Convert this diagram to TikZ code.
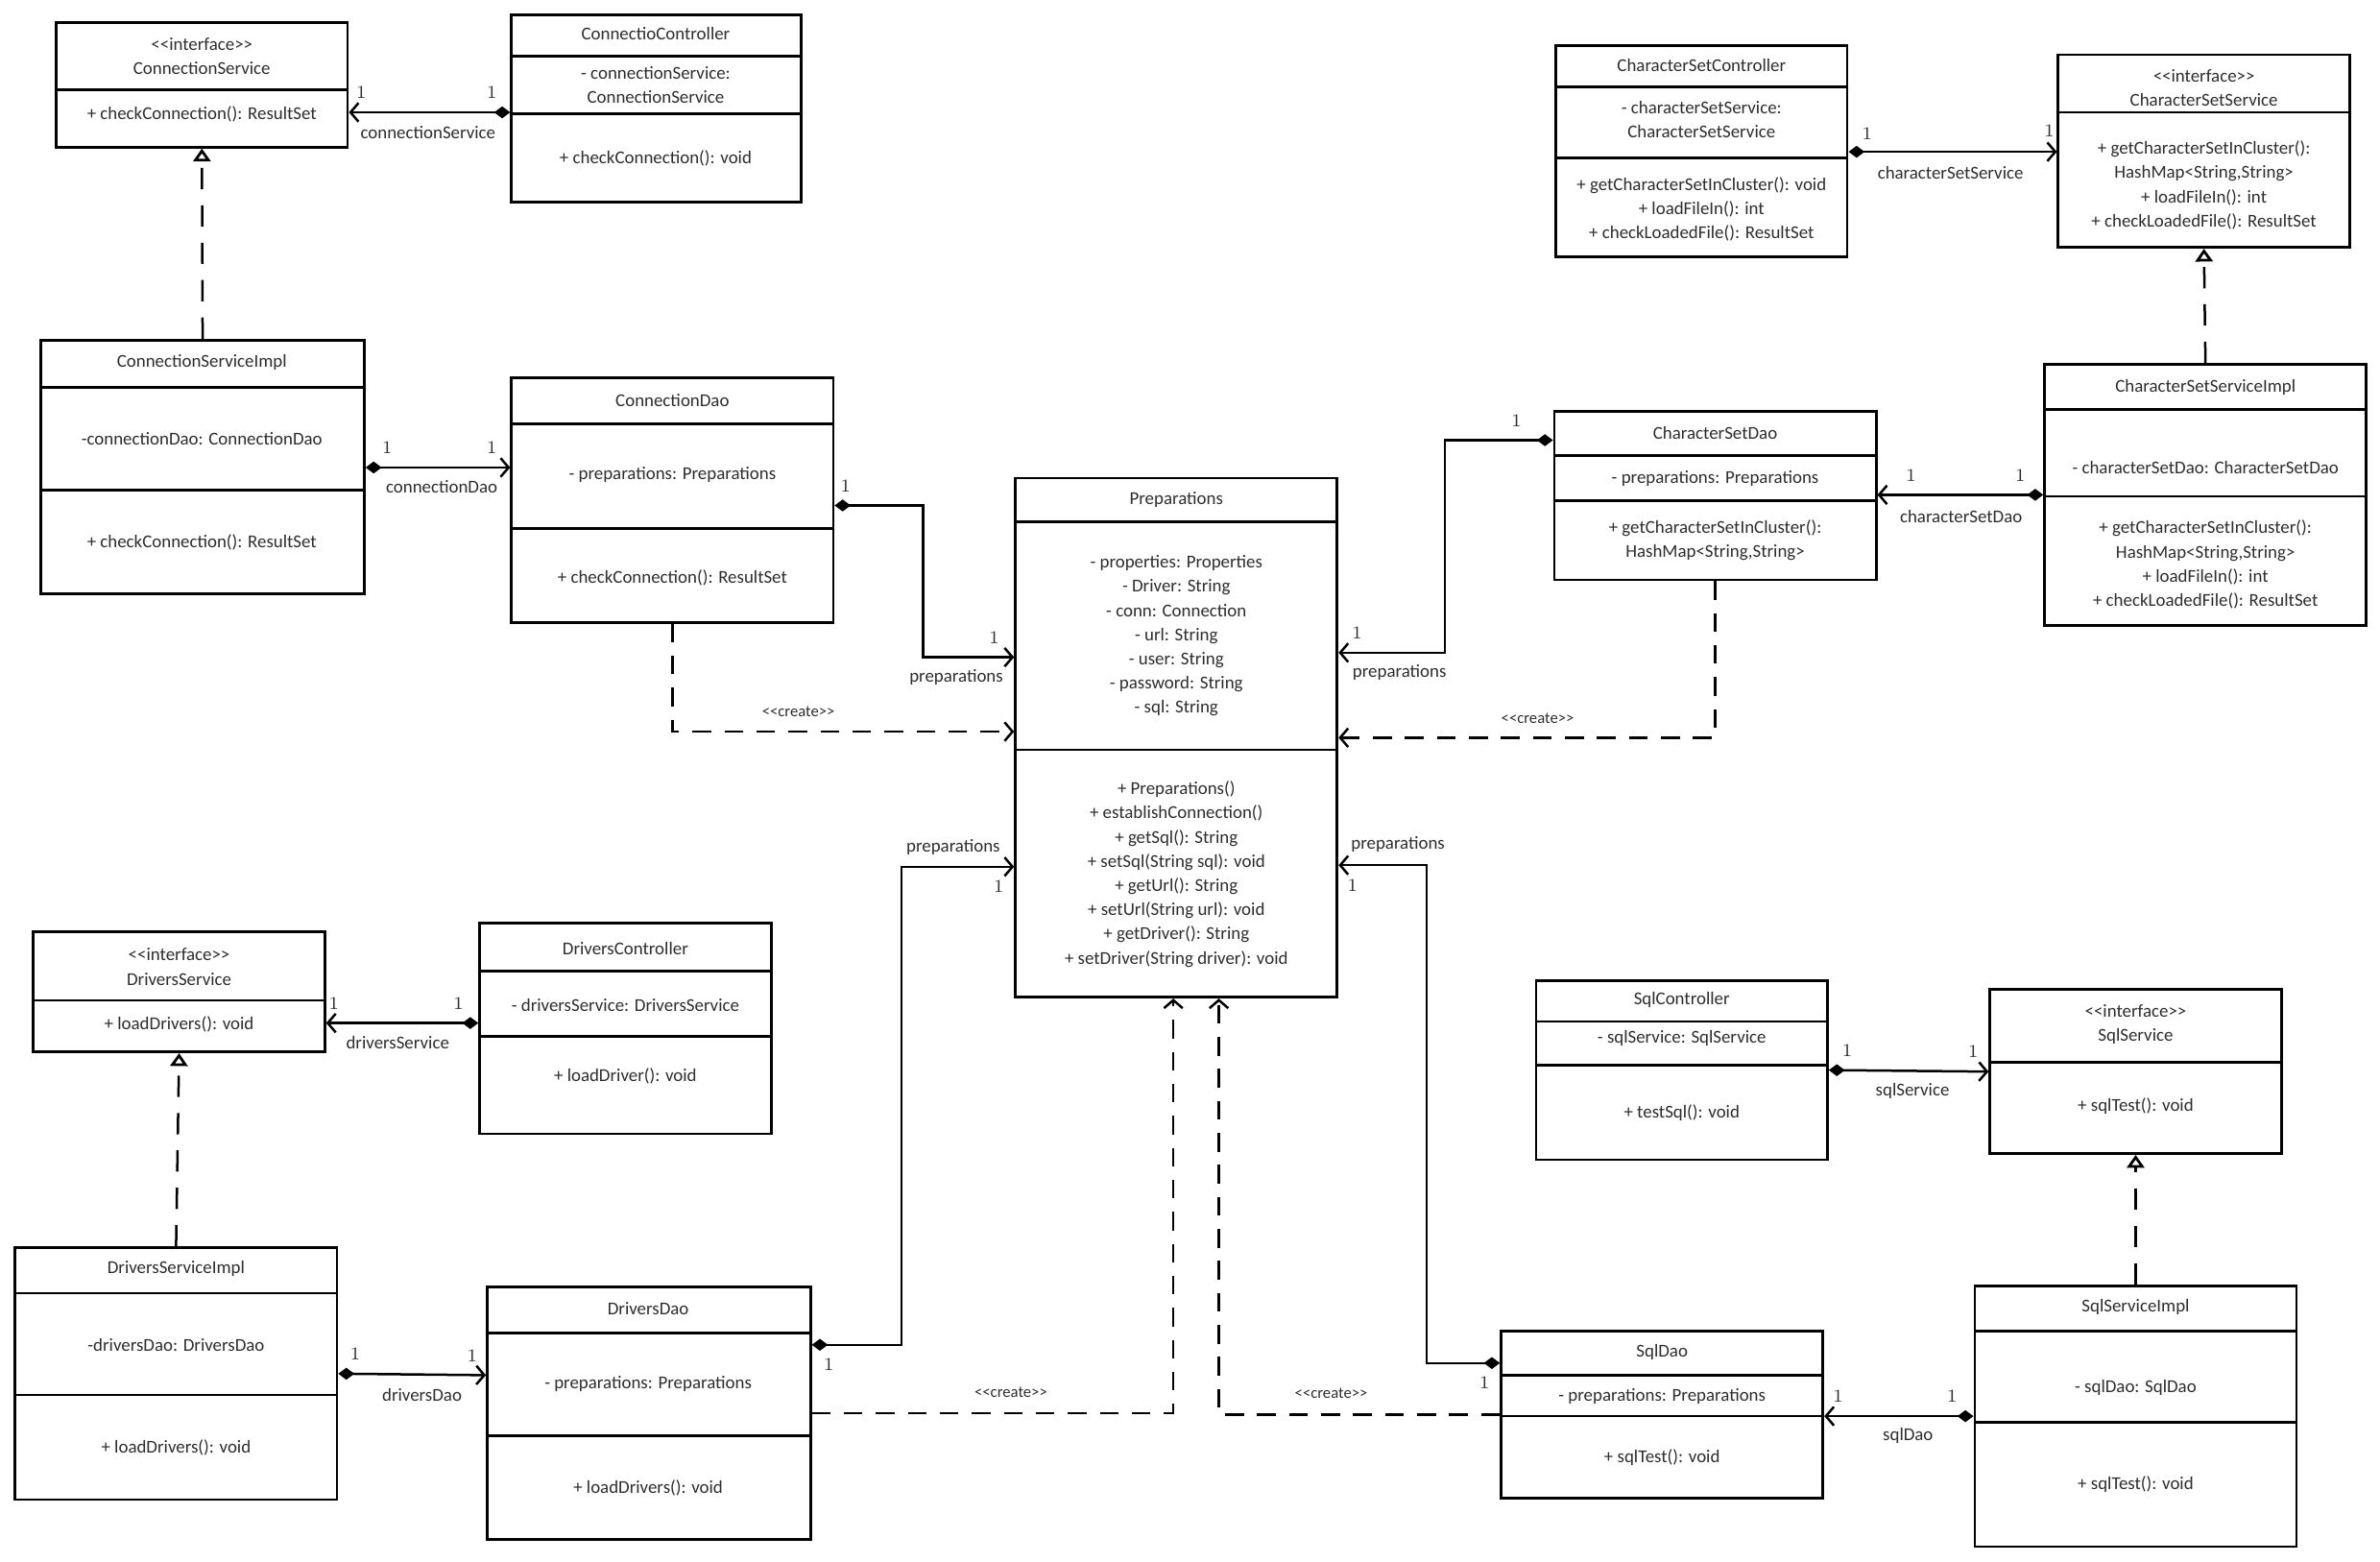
\documentclass[tikz,border=0pt]{standalone}
\usepackage{fontspec}
\setsansfont{Carlito}
\usetikzlibrary{arrows.meta}
\newcommand{\umlcls}[6]{%
  \node[clsbox, minimum width={(#4-#2)*0.02cm}, minimum height={(#5-#3)*0.02cm}] (#1) at ({(#2+#4)/2},{(#3+#5)/2}) {};
  \foreach \dy in {#6} {\draw[clsline] (#2,\dy) -- (#4,\dy);}
}
\newcommand{\stereo}[1]{<\kern0pt<#1>\kern0pt>}
\begin{document}
\begin{tikzpicture}[x=0.02cm,y=-0.02cm,
  clsbox/.style={draw, line width=1pt, inner sep=0pt},
  clsline/.style={line width=1pt},
  txt/.style={font=\sffamily\fontsize{6.8}{9.07}\selectfont, align=center, inner sep=0pt, text=black!82},
  crtlbl/.style={font=\sffamily\fontsize{6}{7}\selectfont, inner sep=0pt, text=black!82},
  mult/.style={font=\rmfamily\fontsize{6.8}{7}\selectfont, inner sep=0pt, text=black!82},
  assoc/.style={line width=0.9pt, {Diamond[length=6pt,width=4.5pt]}-{Straight Barb[length=3pt,width=7pt,line width=0.9pt]}},
  real/.style={line width=0.9pt, dash pattern=on 8pt off 6pt, -{Triangle[open,length=4.8pt,width=6.5pt,line width=1pt]}},
  crt/.style={line width=0.9pt, dash pattern=on 7pt off 5pt, -{Straight Barb[length=3pt,width=7pt,line width=0.9pt]}}
]
\fill[white] (0,0) rectangle (1568,1029);
\useasboundingbox (0,0) rectangle (1568,1029);

% ---------- classes ----------
\umlcls{cs}{37}{15}{229}{97}{59}
\node[txt] (cs-t) at (133,37) {\stereo{interface}\\ConnectionService};
\node[txt] (cs-m) at (133,75) {+ checkConnection(): ResultSet};

\umlcls{ccon}{337}{10}{528}{133}{37,75}
\node[txt] (ccon-t) at (432,22) {ConnectioController};
\node[txt] (ccon-a) at (432,56) {- connectionService:\\ConnectionService};
\node[txt] (ccon-m) at (432,104) {+ checkConnection(): void};

\umlcls{csi}{27}{224}{240}{391}{255,323}
\node[txt] (csi-t) at (133,239) {ConnectionServiceImpl};
\node[txt] (csi-a) at (133,289) {-connectionDao: ConnectionDao};
\node[txt] (csi-m) at (133,357) {+ checkConnection(): ResultSet};

\umlcls{cdao}{337}{249}{549}{410}{279,348}
\node[txt] (cdao-t) at (443,264) {ConnectionDao};
\node[txt] (cdao-a) at (443,313) {- preparations: Preparations};
\node[txt] (cdao-m) at (443,381) {+ checkConnection(): ResultSet};

\umlcls{prep}{669}{315}{881}{657}{344,494}
\node[txt] (prep-t) at (775,329) {Preparations};
\node[txt] (prep-a) at (775,419) {- properties: Properties\\- Driver: String\\- conn: Connection\\- url: String\\- user: String\\- password: String\\- sql: String};
\node[txt] (prep-m) at (775,576) {+ Preparations()\\+ establishConnection()\\+ getSql(): String\\+ setSql(String sql): void\\+ getUrl(): String\\+ setUrl(String url): void\\+ getDriver(): String\\+ setDriver(String driver): void};

\umlcls{cscon}{1025}{30}{1217}{169}{57,104}
\node[txt] (cscon-t) at (1121,43) {CharacterSetController};
\node[txt] (cscon-a) at (1121,79) {- characterSetService:\\CharacterSetService};
\node[txt] (cscon-m) at (1121,138) {+ getCharacterSetInCluster(): void\\+ loadFileIn(): int\\+ checkLoadedFile(): ResultSet};

\umlcls{cssrv}{1356}{36}{1548}{163}{74}
\node[txt] (cssrv-t) at (1452,58) {\stereo{interface}\\CharacterSetService};
\node[txt] (cssrv-m) at (1452,122) {+ getCharacterSetInCluster():\\HashMap<String,String>\\+ loadFileIn(): int\\+ checkLoadedFile(): ResultSet};

\umlcls{cssi}{1347}{240}{1559}{412}{270,327}
\node[txt] (cssi-t) at (1453,255) {CharacterSetServiceImpl};
\node[txt] (cssi-a) at (1453,308) {- characterSetDao: CharacterSetDao};
\node[txt] (cssi-m) at (1453,372) {+ getCharacterSetInCluster():\\HashMap<String,String>\\+ loadFileIn(): int\\+ checkLoadedFile(): ResultSet};

\umlcls{csd}{1024}{271}{1236}{382}{300,330}
\node[txt] (csd-t) at (1130,285) {CharacterSetDao};
\node[txt] (csd-a) at (1130,315) {- preparations: Preparations};
\node[txt] (csd-m) at (1130,356) {+ getCharacterSetInCluster():\\HashMap<String,String>};

\umlcls{ds}{22}{614}{214}{693}{659}
\node[txt] (ds-t) at (118,637) {\stereo{interface}\\DriversService};
\node[txt] (ds-m) at (118,675) {+ loadDrivers(): void};

\umlcls{dcon}{316}{608}{508}{747}{640,683}
\node[txt] (dcon-t) at (412,625) {DriversController};
\node[txt] (dcon-a) at (412,662) {- driversService: DriversService};
\node[txt] (dcon-m) at (412,709) {+ loadDriver(): void};

\umlcls{dsi}{10}{822}{222}{988}{852,919}
\node[txt] (dsi-t) at (116,836) {DriversServiceImpl};
\node[txt] (dsi-a) at (116,886) {-driversDao: DriversDao};
\node[txt] (dsi-m) at (116,954) {+ loadDrivers(): void};

\umlcls{ddao}{321}{848}{534}{1014}{878,946}
\node[txt] (ddao-t) at (427,862) {DriversDao};
\node[txt] (ddao-a) at (427,912) {- preparations: Preparations};
\node[txt] (ddao-m) at (427,980) {+ loadDrivers(): void};

\umlcls{scon}{1012}{646}{1204}{764}{673,702}
\node[txt] (scon-t) at (1108,659) {SqlController};
\node[txt] (scon-a) at (1108,684) {- sqlService: SqlService};
\node[txt] (scon-m) at (1108,733) {+ testSql(): void};

\umlcls{ssrv}{1311}{652}{1503}{760}{700}
\node[txt] (ssrv-t) at (1407,675) {\stereo{interface}\\SqlService};
\node[txt] (ssrv-m) at (1407,729) {+ sqlTest(): void};

\umlcls{ssi}{1301}{847}{1513}{1019}{877,937}
\node[txt] (ssi-t) at (1407,861) {SqlServiceImpl};
\node[txt] (ssi-a) at (1407,914) {- sqlDao: SqlDao};
\node[txt] (ssi-m) at (1407,978) {+ sqlTest(): void};

\umlcls{sdao}{989}{877}{1201}{987}{906,933}
\node[txt] (sdao-t) at (1095,891) {SqlDao};
\node[txt] (sdao-a) at (1095,920) {- preparations: Preparations};
\node[txt] (sdao-m) at (1095,960) {+ sqlTest(): void};

% ---------- realizations ----------
\draw[real] (csi.north) -- (cs.south);
\draw[real] (cssi.north) -- (cssrv.south);
\draw[real] (dsi.north) -- (ds.south);
\draw[real] (ssi.north) -- (ssrv.south);

% ---------- associations ----------
\draw[assoc] (ccon.west |- 0,74) -- (cs.east |- 0,74);
\node[mult] (l1a) at (238,61) {1};
\node[mult] (l1b) at (324,61) {1};
\node[txt] (l1c) at (282,87) {connectionService};

\draw[assoc] (csi.east |- 0,308) -- (cdao.west |- 0,308);
\node[mult] (l2a) at (255,295) {1};
\node[mult] (l2b) at (324,295) {1};
\node[txt] (l2c) at (291,321) {connectionDao};

\draw[assoc] (cdao.east |- 0,333) -- (608,333) -- (608,433) -- (prep.west |- 0,433);
\node[mult] (l3a) at (557,320) {1};
\node[mult] (l3b) at (655,420) {1};
\node[txt] (l3c) at (630,446) {preparations};

\draw[assoc] (cscon.east |- 0,100) -- (cssrv.west |- 0,100);
\node[mult] (l4a) at (1230,88) {1};
\node[mult] (l4b) at (1350,86) {1};
\node[txt] (l4c) at (1285,114) {characterSetService};

\draw[assoc] (cssi.west |- 0,326) -- (csd.east |- 0,326);
\node[mult] (l5a) at (1259,313) {1};
\node[mult] (l5b) at (1331,313) {1};
\node[txt] (l5c) at (1292,340) {characterSetDao};

\draw[assoc] (csd.west |- 0,290) -- (952,290) -- (952,430) -- (prep.east |- 0,430);
\node[mult] (l6a) at (999,277) {1};
\node[mult] (l6b) at (894,417) {1};
\node[txt] (l6c) at (922,443) {preparations};

\draw[assoc] (dcon.west |- 0,674) -- (ds.east |- 0,674);
\node[mult] (l7a) at (220,661) {1};
\node[mult] (l7b) at (302,661) {1};
\node[txt] (l7c) at (262,687) {driversService};

\draw[assoc] (dsi.east |- 0,905) -- (ddao.west |- 0,906);
\node[mult] (l8a) at (234,892) {1};
\node[mult] (l8b) at (311,893) {1};
\node[txt] (l8c) at (278,919) {driversDao};

\draw[assoc] (ddao.east |- 0,886) -- (594,886) -- (594,571) -- (prep.west |- 0,571);
\node[mult] (l9a) at (546,899) {1};
\node[mult] (l9b) at (658,584) {1};
\node[txt] (l9c) at (628,558) {preparations};

\draw[assoc] (scon.east |- 0,705) -- (ssrv.west |- 0,706);
\node[mult] (l10a) at (1217,692) {1};
\node[mult] (l10b) at (1300,693) {1};
\node[txt] (l10c) at (1260,719) {sqlService};

\draw[assoc] (ssi.west |- 0,933) -- (sdao.east |- 0,933);
\node[mult] (l11a) at (1211,920) {1};
\node[mult] (l11b) at (1286,920) {1};
\node[txt] (l11c) at (1257,946) {sqlDao};

\draw[assoc] (sdao.west |- 0,898) -- (940,898) -- (940,570) -- (prep.east |- 0,570);
\node[mult] (l12a) at (978,911) {1};
\node[mult] (l12b) at (891,583) {1};
\node[txt] (l12c) at (921,556) {preparations};

% ---------- create dependencies ----------
\draw[crt] (cdao.south) |- (prep.west |- 0,482);
\node[crtlbl] (c1) at (526,469) {\stereo{create}};
\draw[crt] (csd.south) |- (prep.east |- 0,486);
\node[crtlbl] (c2) at (1013,473) {\stereo{create}};
\draw[crt] (ddao.east |- 0,931) -| (prep.south -| 773,0);
\node[crtlbl] (c3) at (666,917) {\stereo{create}};
\draw[crt] (sdao.west |- 0,932) -| (prep.south -| 803,0);
\node[crtlbl] (c4) at (877,918) {\stereo{create}};
\end{tikzpicture}
\end{document}
